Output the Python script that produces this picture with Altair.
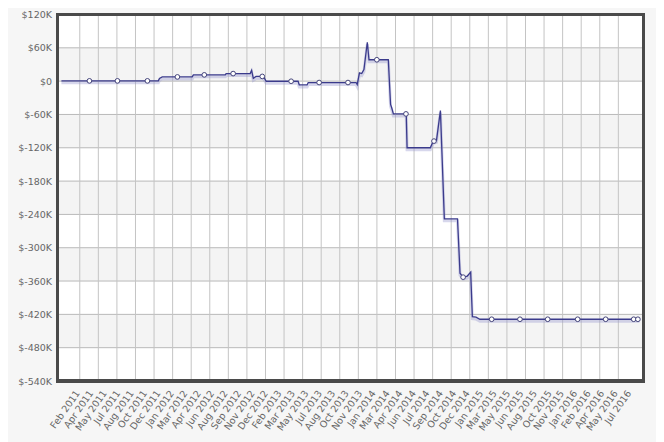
import altair as alt
import pandas as pd

# account balance
line_dates = [
    "2010-12-25", "2011-12-06", "2011-12-10", "2011-12-20", "2012-04-05",
    "2012-04-09", "2012-08-01", "2012-08-04", "2012-10-29", "2012-11-03",
    "2012-11-09", "2012-11-19", "2012-12-15", "2012-12-25", "2013-04-18",
    "2013-04-22", "2013-05-20", "2013-05-24", "2013-11-11", "2013-11-15",
    "2013-11-23", "2013-12-01", "2013-12-09", "2013-12-21", "2013-12-27",
    "2014-03-06", "2014-03-14", "2014-03-18", "2014-03-24", "2014-05-09",
    "2014-05-12", "2014-08-03", "2014-08-13", "2014-08-25", "2014-09-08",
    "2014-09-22", "2014-11-08", "2014-11-17", "2014-11-28", "2014-12-13",
    "2014-12-25", "2014-12-31", "2015-01-13", "2015-01-27", "2016-08-19",
]
line_values = [
    500, 500, 5000, 7600, 7600,
    11300, 11300, 13600, 13600, 19500,
    5100, 8500, 8500, -200, -200,
    -6800, -6800, -2500, -2500, -6200,
    14900, 13600, 20800, 70000, 38500,
    38500, -42000, -48000, -59000, -59000,
    -120000, -120000, -108500, -106700, -53000,
    -248000, -248000, -346000, -353000, -351000,
    -344000, -424000, -425000, -428800, -428800,
]

marker_dates = [
    "2011-04-04", "2011-07-13", "2011-10-28", "2012-02-12", "2012-05-18",
    "2012-08-29", "2012-12-11", "2013-03-24", "2013-07-02", "2013-10-13",
    "2014-01-24", "2014-05-08", "2014-08-16", "2014-11-28", "2015-03-10",
    "2015-06-19", "2015-09-26", "2016-01-11", "2016-04-20", "2016-07-29",
    "2016-08-13",
]
marker_values = [
    500, 500, 500, 7600, 11300,
    13600, 8500, -200, -2500, -2500,
    38500, -59000, -108000, -353000, -428800,
    -428800, -428800, -428800, -428800, -428800,
    -428800,
]

tick_dates = [
    "2011-02-20", "2011-04-09", "2011-05-27", "2011-07-14", "2011-08-31",
    "2011-10-18", "2011-12-05", "2012-01-22", "2012-03-10", "2012-04-27",
    "2012-06-14", "2012-08-01", "2012-09-18", "2012-11-05", "2012-12-23",
    "2013-02-09", "2013-03-29", "2013-05-16", "2013-07-03", "2013-08-20",
    "2013-10-07", "2013-11-24", "2014-01-11", "2014-03-02", "2014-04-17",
    "2014-06-04", "2014-07-22", "2014-09-08", "2014-10-26", "2014-12-13",
    "2015-01-30", "2015-03-19", "2015-05-06", "2015-06-23", "2015-08-10",
    "2015-10-02", "2015-11-14", "2016-01-01", "2016-02-18", "2016-04-06",
    "2016-05-24", "2016-07-11",
]
y_ticks = [-540000, -480000, -420000, -360000, -300000, -240000,
           -180000, -120000, -60000, 0, 60000, 120000]

x_start, x_end = "2010-12-11", "2016-09-02"

FONT = "DejaVu Sans"
LABEL = "#666666"
W, H = 586, 366.5


def ms(d):
    return int(pd.Timestamp(d).value // 10**6)


x_scale = alt.Scale(type="utc", domain=[ms(x_start), ms(x_end)])
y_scale = alt.Scale(domain=[y_ticks[0], y_ticks[-1]], nice=False, zero=False)

x_axis = alt.Axis(
    values=[ms(d) for d in tick_dates],
    labelExpr="utcFormat(datum.value, '%b %Y')",
    labelAngle=-55, labelFont=FONT, labelFontSize=9.5, labelColor=LABEL,
    labelPadding=10, grid=False, ticks=False, domain=False, title=None,
    labelOverlap=False,
)
# plain hyphen for negatives, as in "$-60K"
y_axis = alt.Axis(
    values=y_ticks,
    labelExpr=(
        "'$' + (datum.value < 0 ? '-' : '') + "
        "format(abs(datum.value) / 1000, 'd') + (datum.value == 0 ? '' : 'K')"
    ),
    labelFont=FONT, labelFontSize=9.5, labelColor=LABEL, labelPadding=6,
    grid=False, ticks=False, domain=False, title=None,
)


def X(field="date"):
    return alt.X(f"{field}:T", scale=x_scale, axis=x_axis)


def Y(field="value"):
    return alt.Y(f"{field}:Q", scale=y_scale, axis=y_axis)


line_df = pd.DataFrame({"date": line_dates, "value": line_values})
marker_df = pd.DataFrame({"date": marker_dates, "value": marker_values})

# zebra bands every other 60K step, starting at the top
tops = [t for t in y_ticks[-2::-2] if t > y_ticks[0]]
band_df = pd.DataFrame({"top": tops, "bottom": [t - 60000 for t in tops]})
hgrid_df = pd.DataFrame({"value": y_ticks})

grid_start = pd.Timestamp("2011-02-28 12:00")
vgrid_df = pd.DataFrame(
    {"date": [ms(grid_start + pd.Timedelta(days=66.3 * i)) for i in range(30)]}
)

bands = alt.Chart(band_df).mark_rect(color="#f4f4f4").encode(
    y=Y("top"), y2="bottom"
)
hgrid = alt.Chart(hgrid_df).mark_rule(color="#b9b9b9", strokeWidth=1).encode(y=Y())
vgrid = alt.Chart(vgrid_df).mark_rule(color="#c4c4c4", strokeWidth=1).encode(x=X())

shadow = alt.Chart(line_df).mark_line(
    color="#9a9ad0", strokeWidth=3, opacity=0.4, yOffset=2
).encode(x=X(), y=Y())
line = alt.Chart(line_df).mark_line(color="#3b3b8c", strokeWidth=1.3).encode(
    x=X(), y=Y()
)
markers = alt.Chart(marker_df).mark_point(
    filled=True, fill="white", stroke="#44447a", strokeWidth=1, size=22, opacity=1
).encode(x=X(), y=Y())

frame = alt.Chart(hgrid_df).mark_rect(
    filled=False, stroke="#4a4a4a", strokeWidth=3
).encode(x=alt.value(0), x2=alt.value(W), y=alt.value(0), y2=alt.value(H))

chart = (
    alt.layer(bands, hgrid, vgrid, shadow, line, markers, frame)
    .properties(
        width=W, height=H,
        autosize=alt.AutoSizeParams(type="none"),
        padding={"left": 49.5, "top": 6.5, "right": 12, "bottom": 62},
    )
    .configure(background="#f6f6f6")
    .configure_view(fill="white", strokeWidth=0)
)

chart.save("out.html", embed_options={"renderer": "svg", "actions": False})
